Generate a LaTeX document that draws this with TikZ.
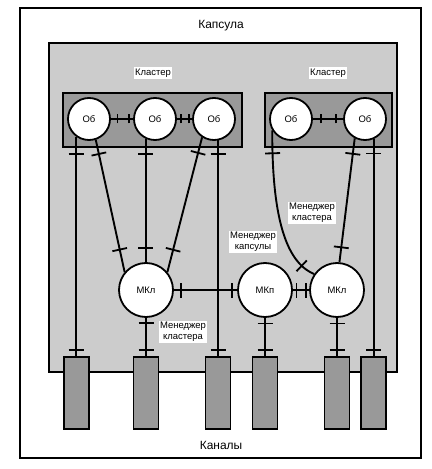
\documentclass[tikz,border=0pt]{standalone}
\usepackage{fontspec}
\setmainfont{Liberation Sans}
\usetikzlibrary{decorations.markings}
\tikzset{
  conn/.style={line width=1.9bp},
  tk/.style={postaction={decorate,decoration={markings,mark=at position #1 with {\draw[line width=1.8bp] (0,-7.5bp)--(0,7.5bp);}}}},
  stk/.style={postaction={decorate,decoration={markings,mark=at position #1 with {\draw[line width=1.8bp] (0,-4.5bp)--(0,4.5bp);}}}},
  box/.style={draw,rectangle,inner sep=0pt,line width=1.8bp},
  ob/.style={draw,circle,fill=white,inner sep=0pt,minimum size=42bp,line width=1.8bp,font=\fontsize{9.5}{11}\selectfont},
  mkl/.style={draw,circle,fill=white,inner sep=0pt,minimum size=54bp,line width=1.8bp,font=\fontsize{9.5}{11}\selectfont},
  chan/.style={draw,rectangle,fill=black!40,inner sep=0pt,minimum width=25bp,minimum height=72bp,line width=1.8bp},
  lbl/.style={fill=white,inner sep=1.5pt,align=center,font=\fontsize{9.5}{11.3}\selectfont},
  big/.style={inner sep=1pt,font=\fontsize{12}{14}\selectfont}
}
\begin{document}
\begin{tikzpicture}[x=1bp,y=-1bp]
\useasboundingbox (0,0) rectangle (431,469);
% outer and capsule
\node[box,line width=2.3bp,minimum width=401bp,minimum height=450bp] (outer) at (220.5,233) {};
\node[box,fill=black!20,minimum width=348bp,minimum height=329bp] (caps) at (223,207.5) {};
\node[big] (tcaps) at (221,26) {Капсула};
\node[big] (tchan) at (221,445) {Каналы};
% clusters
\node[box,fill=black!40,minimum width=179bp,minimum height=54bp] (clL) at (152.5,120) {};
\node[box,fill=black!40,minimum width=127bp,minimum height=54bp] (clR) at (328.5,120) {};
\node[lbl] (tclL) at (153,73) {Кластер};
\node[lbl] (tclR) at (328,73) {Кластер};
% channels
\node[chan] (ch1) at (76.5,393) {};
\node[chan] (ch2) at (146,393) {};
\node[chan] (ch3) at (218,393) {};
\node[chan] (ch4) at (265,393) {};
\node[chan] (ch5) at (337,393) {};
\node[chan] (ch6) at (373.4,393) {};
% objects
\node[ob] (ob1) at (89,119) {Об};
\node[ob] (ob2) at (155,119) {Об};
\node[ob] (ob3) at (214,119) {Об};
\node[ob] (ob4) at (291,119) {Об};
\node[ob] (ob5) at (365,119) {Об};
% managers
\node[mkl] (m1) at (146,290) {МКл};
\node[mkl] (m2) at (265,290) {МКп};
\node[mkl] (m3) at (337,290) {МКл};
% connectors
\draw[conn,stk=6.5bp,stk=-4.5bp] (ob1.east) -- (ob2.west);
\draw[conn,stk=4bp,stk=-3bp] (ob2.east) -- (ob3.west);
\draw[conn,stk=8bp,stk=-7bp] (ob4.east) -- (ob5.west);
\draw[conn,tk=17bp,tk=-6bp] (ob1.-126.5) -- (ob1.-126.5 |- ch1.north);
\draw[conn,tk=14.5bp,tk=-23bp] (ob1.-72) -- (m1.140);
\draw[conn,tk=15bp,tk=-14bp] (ob2.-115) -- (ob2.-115 |- m1.north);
\draw[conn,tk=16bp,tk=-23bp] (ob3.-123) -- (m1.40);
\draw[conn,tk=13.4bp,tk=-6bp] (ob3.-79) -- (ob3.-79 |- ch3.north);
\draw[conn,tk=5bp,tk=-6bp] (m1.south) -- (ch2.north);
\draw[conn,tk=7bp,tk=-5.5bp] (m1.east) -- (m2.west);
\draw[conn,tk=3.5bp,tk=-3.5bp] (m2.east) -- (m3.west);
\draw[conn,tk=5.5bp,tk=-6bp] (m2.south) -- (ch4.north);
\draw[conn,tk=5.5bp,tk=-6bp] (m3.south) -- (ch5.north);
\draw[conn,tk=23bp,tk=-15bp] (ob4.-149) .. controls (272,215) and (285,262) .. (m3.145);
\draw[conn,tk=15.6bp,tk=-15bp] (ob5.-118) -- (m3.85);
\draw[conn,tk=14.5bp,tk=-6bp] (ob5.-66.5) -- (ob5.-66.5 |- ch6.north);
% labels
\node[lbl] (lb1) at (312,213) {Менеджер\\кластера};
\node[lbl] (lb2) at (253,242) {Менеджер\\капсулы};
\node[lbl] (lb3) at (183,332) {Менеджер\\кластера};
\end{tikzpicture}
\end{document}
